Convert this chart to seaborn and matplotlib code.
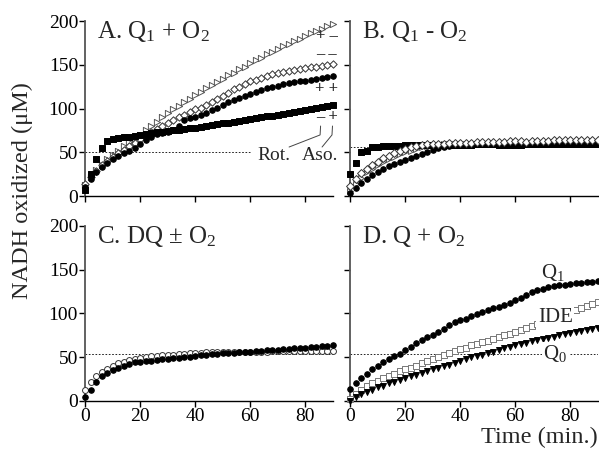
import numpy as np
import pandas as pd
import matplotlib
matplotlib.use('Agg')
import matplotlib.pyplot as plt
import seaborn as sns

# tiempos de muestreo (min)
t = np.arange(0, 92, 2)

# Panel A: Q1 + O2
a_squares = [7, 25, 42, 55, 63, 65, 66, 67, 68, 69,
             70, 71, 72, 73, 73.5, 74, 75, 76, 77, 77.5,
             78, 79, 80, 81, 82, 83, 84, 85, 86, 87,
             88, 89, 90, 91, 92, 93, 94, 95, 96, 97,
             98, 99.5, 100.5, 101.5, 102.5, 104]
a_circles = [10, 20, 27, 33, 38, 42, 46, 49, 52, 55,
             59, 64, 68, 71, 72, 73, 75, 80, 87, 89,
             90, 93, 95, 98, 101, 104, 107, 110, 112, 114.5,
             117, 119, 121, 123, 124.5, 126, 127.5, 129, 130, 131,
             132, 133, 134, 135, 136, 137]
a_diamonds = [14, 22, 29, 35, 40, 45, 49, 53, 57, 61,
              65, 69, 73, 77, 80, 84, 87, 90, 93, 96,
              99, 101, 104, 108, 111, 114, 118, 122, 125, 128,
              131, 133, 135, 137, 139, 140.5, 142, 143, 144, 145,
              146, 147, 148, 149, 150, 151]
a_triangles = [13, 22, 30, 36, 42, 47, 52, 57, 62, 66,
               70, 75, 80, 85, 90, 95, 99, 103, 107, 111,
               115, 119, 123, 127, 130, 134, 138, 141, 145, 148,
               152, 155, 158, 162, 165, 168, 171, 174, 177, 180,
               183, 186, 189, 191, 194, 197]

# Panel B: Q1 - O2
b_squares = [25, 38, 50, 52, 56, 56.5, 57, 57, 57, 57.5,
             58, 58, 58, 58, 58, 58.5, 58.5, 58.5, 58.5, 58.5,
             58.5, 58.5, 58.5, 59, 59, 59, 59, 58.5, 58.5, 58.5,
             58.5, 58.5, 59, 59, 59, 59, 59, 59, 59, 59,
             59, 59, 59.5, 59.5, 59.5, 60]
b_circles = [3, 9, 15, 20, 24, 28, 31, 34, 37, 39,
             41, 43.5, 46, 48, 50.5, 52.5, 54.5, 56, 57, 58,
             58.5, 59, 59, 59, 59, 59, 59, 59, 59, 59,
             59, 59, 59, 59, 59, 59, 59, 59, 59, 59,
             59, 59, 59.5, 59.5, 59.5, 59.5]
b_diamonds = [12, 19, 26, 31, 35, 39, 43, 46, 49, 52,
              54, 56, 57, 58, 59, 59.5, 60, 60, 60.5, 60.5,
              61, 61, 61, 61.5, 61.5, 62, 62, 62, 62, 62.5,
              62.5, 62.5, 62, 62.5, 63, 63, 63, 63.5, 63.5, 63.5,
              64, 64, 64, 64, 64.5, 64.5]
b_triangles = [6, 14, 21, 27, 31, 35, 39, 42, 45, 48,
               50, 52, 54, 55.5, 57, 58, 58.5, 59, 59, 59.5,
               59.5, 59.5, 59.5, 60, 60, 60, 60, 60, 60, 60,
               60, 60, 60, 60, 60, 60, 60, 60, 60, 60,
               60, 60, 60, 60.5, 60.5, 60.5]

# Panel C: DQ +/- O2
c_open = [12.6, 22, 28.5, 33, 37, 40.5, 43, 45, 47, 48.5,
          49.5, 50, 51, 51.5, 52, 52.5, 53, 53.5, 54, 54.5,
          55, 55, 55.5, 55.5, 55.5, 56, 56, 56, 56, 56.5,
          56.5, 56.5, 56.5, 56.5, 57, 57, 57, 57, 57, 57.5,
          57.5, 57.5, 57.5, 57.5, 57.5, 57.5]
c_filled = [5, 13, 22, 28, 32, 35, 38, 40.5, 42.5, 44,
            45, 45.5, 46, 47, 47.5, 48, 49, 49.5, 50, 50.5,
            51, 52, 53, 53.5, 54, 54.5, 55, 55, 55.5, 56,
            56.5, 57, 57.5, 58, 58, 58.5, 59, 59.5, 60, 60.5,
            61, 61.5, 62, 62.5, 63, 63.5]

# Panel D: Q + O2
d_q1 = [14, 20, 26, 31, 36, 40, 44, 48, 51, 54,
        58, 62, 66, 70, 73, 75, 79, 82, 87, 90,
        92, 94, 97, 99.5, 102, 104, 106, 107.5, 109.5, 112,
        115, 118, 121, 124, 126.5, 128.5, 130, 131, 132, 133,
        134, 134.5, 135, 135.5, 136.5, 137]
d_ide = [2, 8, 13, 17, 20, 23, 26, 28.5, 31, 34,
         36, 38, 40.5, 43, 45.5, 48, 50, 52.5, 55, 57,
         59, 61, 63.5, 65, 67, 69, 71, 73, 75, 77,
         79, 81, 83.5, 85.5, 88, 90, 92.5, 95, 97, 99,
         101.5, 104, 106, 108.5, 111, 113]
d_q0 = [0, 4, 8, 10.5, 13, 15.5, 17.5, 20, 22, 24,
        26, 28, 30, 32, 34, 36, 37.5, 39.5, 41.5, 43.5,
        45.5, 47.5, 50, 51.5, 53, 55, 56.5, 58.5, 60, 62,
        63.5, 65, 66.5, 68, 69.5, 71, 72.5, 73.5, 75, 76.5,
        77.5, 79, 80, 81, 82, 83]

# niveles de referencia (líneas discontinuas)
ref_levels = {'A': 50, 'B': 56, 'C': 54, 'D': 54}
rot_signs = ['+', '–', '+', '–']
aso_signs = ['–', '–', '+', '+']

sns.set_theme(style='ticks')
plt.rcParams['font.family'] = ['Liberation Serif', 'DejaVu Serif']
plt.rcParams['mathtext.fontset'] = 'custom'
plt.rcParams['mathtext.rm'] = 'Liberation Serif'
plt.rcParams['mathtext.it'] = 'Liberation Serif:italic'

fig = plt.figure(figsize=(5.99, 4.5), dpi=100)
axA = fig.add_axes([0.1419, 0.5644, 0.4140, 0.3889])
axB = fig.add_axes([0.5843, 0.5644, 0.4140, 0.3889])
axC = fig.add_axes([0.1419, 0.1089, 0.4140, 0.3889])
axD = fig.add_axes([0.5843, 0.1089, 0.4140, 0.3889])


def puntos(ax, y, marker, face, edge, s=16, lw=0.7, z=3):
    sns.scatterplot(x=t, y=y, ax=ax, marker=marker, s=s, color=face,
                    edgecolor=edge, linewidth=lw, clip_on=False, zorder=z,
                    legend=False)


# A
puntos(axA, a_triangles, '>', 'white', '#555555', s=20)
puntos(axA, a_diamonds, 'D', 'white', '#333333', s=14)
puntos(axA, a_circles, 'o', 'black', 'black', s=16, z=4)
puntos(axA, a_squares, 's', 'black', 'black', s=16, z=4)
# B
puntos(axB, b_triangles, '>', 'white', '#555555', s=18)
puntos(axB, b_circles, 'o', 'black', 'black', s=16)
puntos(axB, b_squares, 's', 'black', 'black', s=16)
puntos(axB, b_diamonds, 'D', 'white', '#333333', s=16, z=4)
# C
puntos(axC, c_open, 'o', 'white', '#333333', s=18)
puntos(axC, c_filled, 'o', 'black', 'black', s=16, z=4)
# D
puntos(axD, d_q1, 'o', 'black', 'black', s=16)
puntos(axD, d_ide, 's', 'white', '#777777', s=16)
puntos(axD, d_q0, 'v', 'black', 'black', s=18)

axA.plot([0, 60], [ref_levels['A']] * 2, ls=(0, (2, 2)), color='black', lw=0.6, zorder=1)
for ax, k in [(axB, 'B'), (axC, 'C'), (axD, 'D')]:
    ax.plot([0, 90], [ref_levels[k]] * 2, ls=(0, (2, 2)), color='black', lw=0.6, zorder=1)

titulos = {axA: 'A. Q$_1$ + O$_2$', axB: 'B. Q$_1$ - O$_2$',
           axC: 'C. DQ ± O$_2$', axD: 'D. Q + O$_2$'}
for ax in [axA, axB, axC, axD]:
    ax.set_xlim(0, 90)
    ax.set_ylim(0, 200)
    ax.set_xticks([0, 20, 40, 60, 80])
    ax.set_yticks([0, 50, 100, 150, 200])
    ax.set_xlabel('')
    ax.set_ylabel('')
    ax.tick_params(labelsize=14, length=4, width=1, direction='out', pad=1,
                   colors='black')
    for sp in ['top', 'right']:
        ax.spines[sp].set_visible(False)
    ax.spines['left'].set_color('#555555')
    ax.spines['left'].set_linewidth(1.3)
    ax.spines['bottom'].set_color('black')
    ax.spines['bottom'].set_linewidth(1.0)
    ax.text(0.048, 0.905, titulos[ax], transform=ax.transAxes, fontsize=18,
            va='baseline', ha='left')

axA.tick_params(labelbottom=False)
axB.tick_params(labelbottom=False, labelleft=False)
axD.tick_params(labelleft=False)

# anotaciones Rot. / Aso.
rows_y = [0.914, 0.811, 0.611, 0.451]
for yy, r, a in zip(rows_y, rot_signs, aso_signs):
    axA.text(0.975, yy, f'{r} {a}', transform=axA.transAxes, ha='center',
             va='center', fontsize=12, fontweight='bold', clip_on=False)
axA.text(0.762, 0.234, 'Rot.', transform=axA.transAxes, ha='center', va='center', fontsize=14)
axA.text(0.948, 0.234, 'Aso.', transform=axA.transAxes, ha='center', va='center', fontsize=14)
axA.plot([0.823, 0.948, 0.950], [0.28, 0.349, 0.40], transform=axA.transAxes,
         color='#444444', lw=0.7, clip_on=False)
axA.plot([0.956, 0.996, 0.998], [0.28, 0.349, 0.40], transform=axA.transAxes,
         color='#444444', lw=0.7, clip_on=False)

# etiquetas del panel D
axD.text(73.8, 147, 'Q$_1$', fontsize=15, ha='center', va='center')
axD.text(74.5, 95.5, 'IDE', fontsize=15, ha='center', va='center', zorder=6,
         bbox=dict(facecolor='white', edgecolor='none', pad=1))
axD.text(74.5, 54, 'Q$_0$', fontsize=15, ha='center', va='center', zorder=6,
         bbox=dict(facecolor='white', edgecolor='none', pad=1))

fig.text(0.037, 0.576, 'NADH oxidized (μM)', rotation=90, fontsize=17.5,
         ha='center', va='center')
fig.text(0.998, 0.0156, 'Time (min.)', fontsize=17.5, ha='right', va='baseline')

fig.savefig('out.png', dpi=100)
